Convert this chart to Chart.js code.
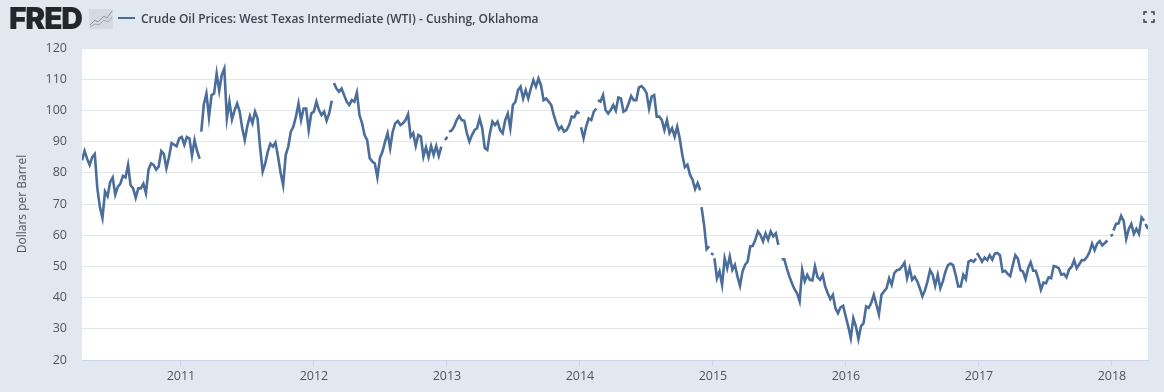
<!DOCTYPE html>
<html>
<head>
<meta charset="utf-8">
<title>Crude Oil Prices: West Texas Intermediate (WTI) - Cushing, Oklahoma</title>
<script src="https://cdn.jsdelivr.net/npm/chart.js@4/dist/chart.umd.min.js"></script>
<style>
    html, body { margin:0; padding:0; background:#e1e8ef; }
    #wrap { position:relative; width:1164px; height:392px; overflow:hidden; }
    #c-wti { position:absolute; left:0; top:0; }
    #logo { position:absolute; left:9px; top:1px; font:900 30px/34px Inter, sans-serif; letter-spacing:-1.2px; color:#23262b; }
    #logo-icon { position:absolute; left:89px; top:9px; }
    #legend-line { position:absolute; left:118px; top:17px; width:17px; height:2px; background:#4a6d9a; }
    #legend-text { position:absolute; left:141px; top:10px; font:600 12px/17px "Open Sans", sans-serif; color:#3c4450; white-space:nowrap; }
    #expand { position:absolute; left:1143px; top:11px; }
</style>
</head>
<body>
<div id="wrap">
    <canvas id="c-wti" width="1164" height="392"></canvas>
    <div id="logo">FRED</div>
    <svg id="logo-icon" width="24" height="20" viewBox="0 0 24 20">
        <rect width="24" height="20" fill="#d3dae1"/>
        <polyline points="1,16 6,11 9,13 15,7 18,9 23,2" fill="none" stroke="#8c949e" stroke-width="1"/>
        <polyline points="1,18 6,15 10,16 15,11 19,13 23,8" fill="none" stroke="#a3aab2" stroke-width="1"/>
    </svg>
    <div id="legend-line"></div>
    <div id="legend-text">Crude Oil Prices: West Texas Intermediate (WTI) - Cushing, Oklahoma</div>
    <svg id="expand" width="12" height="12" viewBox="0 0 12 12">
        <path d="M1 4V1H4M8 1H11V4M11 8V11H8M4 11H1V8" fill="none" stroke="#2f3640" stroke-width="1.4"/>
    </svg>
</div>
<script>
// weekly closes, one array per unbroken stretch of line
const seg2010 = [84,87,84.5,82.5,85,86,75,69,65.5,74,72.5,77,78.5,73,75.5,76.5,79,78.5,82.5,76,75,72,75,75,76.5,73.5,81,83,82.5,81,82,87,86,81.5,85,89.5,89,88.5,91,91.5,89,91.5,91,85.5,90.5,87,84.5];
const seg2011 = [93.2,102,105.4,97.8,104.9,105.4,111.8,106.3,111.3,113.4,97.4,102.8,97.1,100,102.2,99.6,94.3,90.5,95,98.2,95.9,99.6,97.4,88,80.4,83,86.8,89.3,88.4,89.7,85.2,80,76,85.7,88.4,93.2,94.8,98,102.2,96.9,100.6,100.6,93.7,99,99.6,102.8,100.1,98.5,99.6,96.7,99,103.1];
const seg2012 = [108.8,107,106,107,104.9,102.8,101.7,103.3,102.8,105.7,98.5,95.9,92.1,90.5,84.7,83.6,83,78.6,84.7,86.8,90,92.7,87.9,93.2,95.9,96.6,95.3,95.9,96.9,98.8,91.6,92.7,88.6,92.1,91.6,85.2,88.2,85,88.6,85.7,88.6,85.4,88.4];
const dashNewYear2013 = [90.5,91.5];
const seg2013 = [93.2,93.5,94.8,96.9,98.2,96.9,96.7,92.7,90,92.1,93.7,94.3,97.4,94.3,87.9,87.3,92.7,96.4,95.3,96.4,93.7,92.7,96.9,99,94.3,101.7,102.8,106.5,107.6,103.8,106.5,103.8,107,109.7,107.6,110.2,108,103.3,103.8,102.8,101.7,98.5,95.9,93.9,94.8,93.2,93.7,95.3,98,97.8,99.6,99];
const segEarly2014 = [94.6,91.1,94.8,97.4,96.9,99.6,100.6];
const seg2014 = [103.3,102.8,104.9,100.1,99,100.1,101.7,99.9,104.1,103.8,99.6,100.1,102.2,104.6,103.3,103.3,107.3,107.8,107,105.6,100.6,104.4,104.9,98,98,96.9,93.7,96.9,92.7,94.3,91.6,94.8,91,85.7,81.8,82.6,79.4,77.8,74.8,76.7,74.4];
const segDec2014 = [69,63.3,55.5,56.4];
const dashNewYear2015 = [54.2,53.8];
const seg2015 = [52.6,46.2,48.4,44.1,52.6,49.4,53.2,48.9,50.5,46.8,43.8,48.4,50.5,51.6,56.4,56.6,58.5,61.2,60.1,58,60.6,58.5,61.2,59.6,60.6,56.9];
const segMid2015 = [52.3,52.3,49.4,46.8,44.6,42.7,41.4,38.8,48.9,45.2,47.3,45.7,45.5,50,46.6,45.7,47.3,43.6,41.4,39.5,40.9,36.6,35,36.9,37.4,34,30.8,27,33.4,30.8,26.7,30.8,31.8,37.2,36.7,38.3,40.9,37.8,34.6,40.9,42,43,46.2,44.1,47.8,48.8,49,49.9,51.2,46.2,49.4,45.7,46.7,45.2,43,40.4,42.3,45.2,48.8,47.3,43.8,47.3,43,45.2,48.3,50.4,50.9,50.4,47.3,43.6,43.6,47.3,45.9,51.5,52,51.5,52.5];
const seg2017 = [54.3,53,51.5,52.8,52,53.6,52.2,54.1,54.3,53.6,48.3,48.6,47.6,46.9,50.4,53.6,52.5,48.8,48.3,45.9,49.4,51.3,48.6,48.6,45.9,42.5,44.8,44.6,46.5,46.2,50.1,49.9,49.4,47.3,47.6,46.5,49,49.9,52,49.4,50.7,52,52,53,54.6,57.3,55.2,57.3,58.1,56.7,57.5,58.3];
const dashNewYear2018 = [59.8,60.2];
const seg2018 = [61.5,63.6,63.8,66.2,64.6,58.8,62,63.6,60.4,62,60.4,65.7,64.6];
const dashEnd = [63.6,62];

// decimal year where each stretch begins
const segStarts = [2010.256,2011.153,2012.150,2012.985,2013.015,2014.008,2014.135,2014.914,2014.985,2015.011,2015.517,2016.985,2017.989,2018.011,2018.252];
const segValues = [seg2010,seg2011,seg2012,dashNewYear2013,seg2013,segEarly2014,seg2014,segDec2014,dashNewYear2015,seg2015,segMid2015,seg2017,dashNewYear2018,seg2018,dashEnd];

const yearTicks = [2011,2012,2013,2014,2015,2016,2017,2018];
const xMin = 2010.256, xMax = 2018.271;

const points = [];
segValues.forEach((vals, s) => {
    vals.forEach((v, i) => points.push({ x: segStarts[s] + i/52, y: v }));
    points.push({ x: segStarts[s] + vals.length/52, y: null }); // break the line
});

const plotBg = {
    id: 'plotBg',
    beforeDraw(chart) {
        const a = chart.chartArea;
        chart.ctx.fillStyle = '#ffffff';
        chart.ctx.fillRect(a.left, a.top, a.right - a.left, a.bottom - a.top);
    }
};

const tickFont = { family: '"Open Sans", sans-serif', size: 12.5 };
const titleFont = { family: '"Open Sans", sans-serif', size: 12 };

new Chart(document.getElementById('c-wti'), {
    type: 'line',
    data: { datasets: [{ label: 'Crude Oil Prices', data: points, borderColor: '#4a6d9a', borderWidth: 2.6, pointRadius: 0, tension: 0, spanGaps: false }] },
    plugins: [plotBg],
    options: {
        responsive: false, animation: false, parsing: { xAxisKey: 'x', yAxisKey: 'y' },
        layout: { padding: { top: 48, right: 16, left: 0, bottom: 0 } },
        plugins: { legend: { display: false }, tooltip: { enabled: false } },
        scales: {
            x: {
                type: 'linear', min: xMin, max: xMax,
                afterBuildTicks: s => { s.ticks = yearTicks.map(v => ({ value: v })); },
                afterFit: s => { s.height = 32; },
                grid: { drawOnChartArea: false, drawTicks: true, tickLength: 6, color: '#ccd6eb' },
                border: { color: '#ccd6eb' },
                ticks: { color: '#4f5560', font: tickFont, maxRotation: 0, autoSkip: false, padding: 3, callback: v => String(v) }
            },
            y: {
                min: 20, max: 120,
                afterFit: s => { s.width = 82; },
                grid: { color: '#e3e6ea', drawTicks: false },
                border: { display: false },
                ticks: { color: '#4f5560', font: tickFont, stepSize: 10, padding: 15 },
                title: { display: true, text: 'Dollars per Barrel', color: '#4f5560', font: titleFont, padding: { top: 15, bottom: 0 } }
            }
        }
    }
});
</script>
</body>
</html>
